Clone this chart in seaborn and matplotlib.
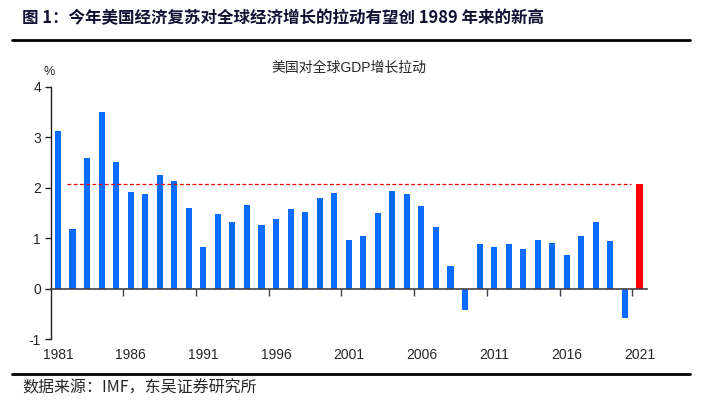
import matplotlib
matplotlib.use('Agg')
import matplotlib.pyplot as plt
from matplotlib.lines import Line2D
import seaborn as sns
import pandas as pd

years = [str(y) for y in range(1981, 2022)]
values = [3.12, 1.18, 2.58, 3.49, 2.51, 1.92, 1.87, 2.25, 2.13, 1.60,
          0.82, 1.48, 1.33, 1.65, 1.26, 1.39, 1.57, 1.52, 1.79, 1.89,
          0.96, 1.05, 1.49, 1.93, 1.87, 1.63, 1.23, 0.44, -0.42, 0.89,
          0.83, 0.88, 0.78, 0.96, 0.90, 0.67, 1.04, 1.32, 0.95, -0.58,
          2.07]
kinds = ['hist'] * 40 + ['2021']
ref_level = 2.07
label_years = ['1981', '1986', '1991', '1996', '2001', '2006', '2011', '2016', '2021']

df = pd.DataFrame({'year': years, 'value': values, 'kind': kinds})
kind_colors = {'hist': '#0A6CFF', '2021': '#FF0000'}
bar_palette = {y: kind_colors[k] for y, k in zip(years, kinds)}

sns.set_style('white')
plt.rcParams['font.family'] = ['Liberation Sans', 'Noto Sans CJK SC', 'DejaVu Sans']

fig = plt.figure(figsize=(7.03, 4.15), dpi=100)
ax = fig.add_axes([0.0721, 0.1827, 0.8479, 0.6083])

sns.barplot(data=df, x='year', y='value', hue='year', palette=bar_palette,
            width=0.42, legend=False, saturation=1, linewidth=0, ax=ax)

ax.set_xlim(-0.5, len(years) - 0.5)
ax.set_ylim(-1, 4)
ax.set_yticks([-1, 0, 1, 2, 3, 4])
ax.set_yticklabels(['-1', '0', '1', '2', '3', '4'], fontsize=10)
ax.set_xlabel('')
ax.set_ylabel('')

# red dashed reference line at the 2021 level
ax.hlines(ref_level, 0.65, 39.45, colors='#E00000', linestyles=(0, (3, 2)), lw=0.9)

# zero line with ticks between categories
for s in ['top', 'right']:
    ax.spines[s].set_visible(False)
ax.spines['bottom'].set_position(('data', 0))
ax.spines['bottom'].set_color('#404040')
ax.spines['bottom'].set_linewidth(1.2)
ax.spines['left'].set_color('#202020')
ax.spines['left'].set_linewidth(1.0)
bounds = [i + 4.5 for i in range(0, 40, 5)]
ax.set_xticks(bounds)
ax.set_xticklabels([''] * len(bounds))
ax.tick_params(axis='x', direction='out', length=5, width=1, color='#404040', bottom=True)
ax.tick_params(axis='y', direction='out', length=4, width=1, color='#202020', left=True, pad=3)

sec = ax.secondary_xaxis(0)
sec.set_xticks([years.index(y) for y in label_years])
sec.set_xticklabels(label_years, fontsize=10)
sec.tick_params(length=0, pad=6)
sec.spines['bottom'].set_visible(False)

ax.set_title('美国对全球GDP增长拉动', fontsize=10, pad=11)
fig.text(43 / 703, 1 - 72 / 415, '%', fontsize=9, ha='left', va='center')

# report frame: header, rules and source
fig.text(22 / 703, 1 - 18 / 415, '图 1：今年美国经济复苏对全球经济增长的拉动有望创 1989 年来的新高',
         fontsize=11.9, fontweight='bold', color='#111133', ha='left', va='center',
         family=['Noto Sans CJK SC', 'DejaVu Sans'])
fig.add_artist(Line2D([12 / 703, 690 / 703], [1 - 40 / 415] * 2, color='black', lw=2))
fig.add_artist(Line2D([12 / 703, 690 / 703], [1 - 374 / 415] * 2, color='black', lw=2))
fig.text(22 / 703, 1 - 388 / 415, '数据来源：IMF，东吴证券研究所', fontsize=11.5,
         ha='left', va='center', family=['Noto Sans CJK SC', 'DejaVu Sans'])

fig.savefig('out.png', dpi=100)
